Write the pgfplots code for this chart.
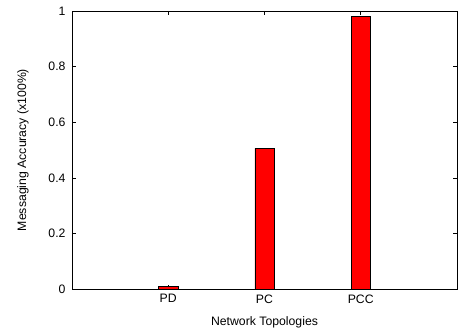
\documentclass[border=0pt]{standalone}
\usepackage{pgfplots}
\pgfplotsset{compat=1.18}
\usepackage{fontspec}
\setmainfont{Liberation Sans}
\begin{document}
\begin{tikzpicture}[font=\fontsize{12.3}{14}\selectfont]
\begin{axis}[
  scale only axis,
  width=385bp, height=278bp,
  xmin=0, xmax=4, ymin=0, ymax=1,
  xtick={1,2,3},
  xticklabels={PD,PC,PCC},
  ytick={0,0.2,0.4,0.6,0.8,1},
  yticklabels={0,0.2,0.4,0.6,0.8,1},
  tick align=inside,
  major tick length=4bp,
  tick style={black, line width=0.6pt},
  axis line style={line width=0.8pt},
  xlabel={Network Topologies},
  ylabel={Messaging Accuracy (x100\%)},
  xlabel style={yshift=-7bp},
  ylabel style={yshift=13bp},
  xticklabel style={yshift=-2bp},
  yticklabel style={xshift=-3bp},
  /pgf/number format/assume math mode=true,
]
\addplot[ybar, bar width=0.2, fill=red, draw=black, line width=0.6pt] coordinates {(1,0.01) (2,0.506) (3,0.982)};
\end{axis}
\pgfresetboundingbox
\useasboundingbox ([shift={(-72bp,-40bp)}]current axis.south west) rectangle ([shift={(1bp,11bp)}]current axis.north east);
\end{tikzpicture}
\end{document}
